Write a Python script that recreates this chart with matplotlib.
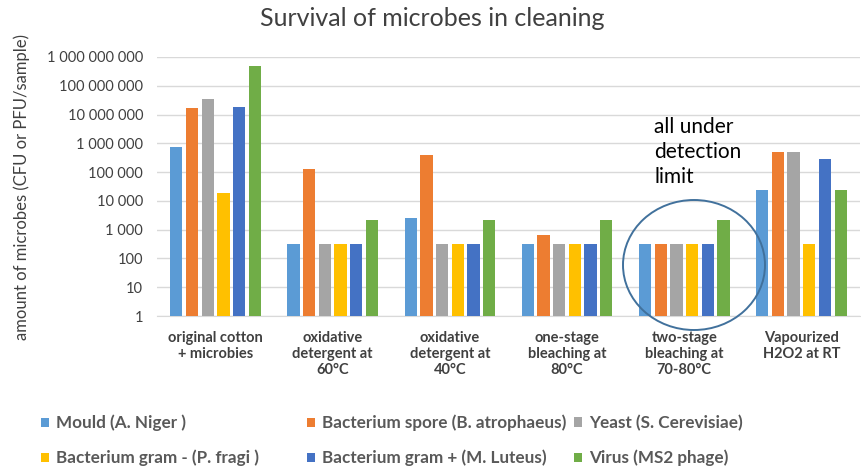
import matplotlib
matplotlib.use("Agg")
import matplotlib.pyplot as plt
import numpy as np
from matplotlib.patches import Ellipse
from matplotlib.ticker import FixedLocator, FuncFormatter, NullLocator

plt.rcParams['font.family'] = ['Lato', 'DejaVu Sans']

categories = ["original cotton\n+ microbies", "oxidative\ndetergent at\n60°C",
              "oxidative\ndetergent at\n40°C", "one-stage\nbleaching at\n80°C",
              "two-stage\nbleaching at\n70-80°C", "Vapourized\nH2O2 at RT"]
series_names = ["Mould (A. Niger )", "Bacterium spore (B. atrophaeus)", "Yeast (S. Cerevisiae)",
                "Bacterium gram - (P. fragi )", "Bacterium gram + (M. Luteus)", "Virus (MS2 phage)"]
mould = [750000, 330, 2600, 330, 330, 23000]
spore = [17500000, 130000, 390000, 670, 330, 500000]
yeast = [34000000, 330, 330, 330, 330, 500000]
gram_neg = [19000, 330, 330, 330, 330, 330]
gram_pos = [19000000, 330, 330, 330, 330, 290000]
virus = [470000000, 2200, 2200, 2200, 2200, 24000]
values = [mould, spore, yeast, gram_neg, gram_pos, virus]
colors = ["#5B9BD5", "#ED7D31", "#A5A5A5", "#FFC000", "#4472C4", "#70AD47"]
yticks = [1, 10, 100, 1000, 10000, 100000, 1000000, 10000000, 100000000, 1000000000]

W, H = 861, 467
fig = plt.figure(figsize=(W/100, H/100), dpi=100)
ax = fig.add_axes([157/W, 1-316/H, 703/W, 259/H])

x = np.arange(len(categories))
slot = 0.134
bw = 0.105
handles = []
for i, (vals, c, name) in enumerate(zip(values, colors, series_names)):
    b = ax.bar(x + (i - 2.5) * slot, vals, width=bw, color=c, label=name, zorder=3)
    handles.append(b)

ax.set_yscale('log')
ax.set_ylim(1, 1e9)
ax.set_xlim(-0.5, len(categories) - 0.5)
ax.yaxis.set_major_locator(FixedLocator(yticks))
ax.yaxis.set_minor_locator(NullLocator())
ax.yaxis.set_major_formatter(FuncFormatter(lambda v, p: f"{int(round(v)):,}".replace(",", " ")))
ax.grid(axis='y', color='#d9d9d9', linewidth=1.0, zorder=0)
for s in ['top', 'right', 'left']:
    ax.spines[s].set_visible(False)
ax.spines['bottom'].set_color('#d9d9d9')
ax.tick_params(axis='y', length=0, labelsize=10.5, labelcolor='#404040', pad=10)
ax.tick_params(axis='x', length=0, labelsize=10.5, labelcolor='#404040', pad=11)
ax.set_xticks(x)
ax.set_xticklabels(categories, fontweight='bold', linespacing=1.15)
ax.set_ylabel("amount of microbes (CFU or PFU/sample)", fontsize=12, color='#404040', labelpad=12)

fig.text(432/W, 1-18/H, "Survival of microbes in cleaning", ha='center', va='center',
         fontsize=18, color='#404040')

# circle annotation
ell = Ellipse((694/W, 1-265/H), 142/W, 130/H, transform=fig.transFigure,
              fill=False, edgecolor='#41719C', linewidth=1.4, zorder=5)
fig.patches.append(ell)
fig.text(654/W, 1-152/H, "all under\ndetection\nlimit", ha='left', va='center',
         fontsize=15, color='#000000', linespacing=1.33)

# legend, row-major layout
leg_pos = [(41, 423), (307, 423), (574, 423), (41, 458), (307, 458), (574, 458)]
for h, name, (lx, ly) in zip(handles, series_names, leg_pos):
    lg = fig.legend(handles=[h], labels=[name], loc='center left',
                    bbox_to_anchor=(lx/W, 1-ly/H), frameon=False, borderpad=0,
                    borderaxespad=0,
                    prop={'weight': 'bold', 'size': 12.3},
                    handlelength=0.45, handleheight=0.45, handletextpad=0.45)
    for t in lg.get_texts():
        t.set_color('#595959')

fig.savefig("out.png", dpi=100)
